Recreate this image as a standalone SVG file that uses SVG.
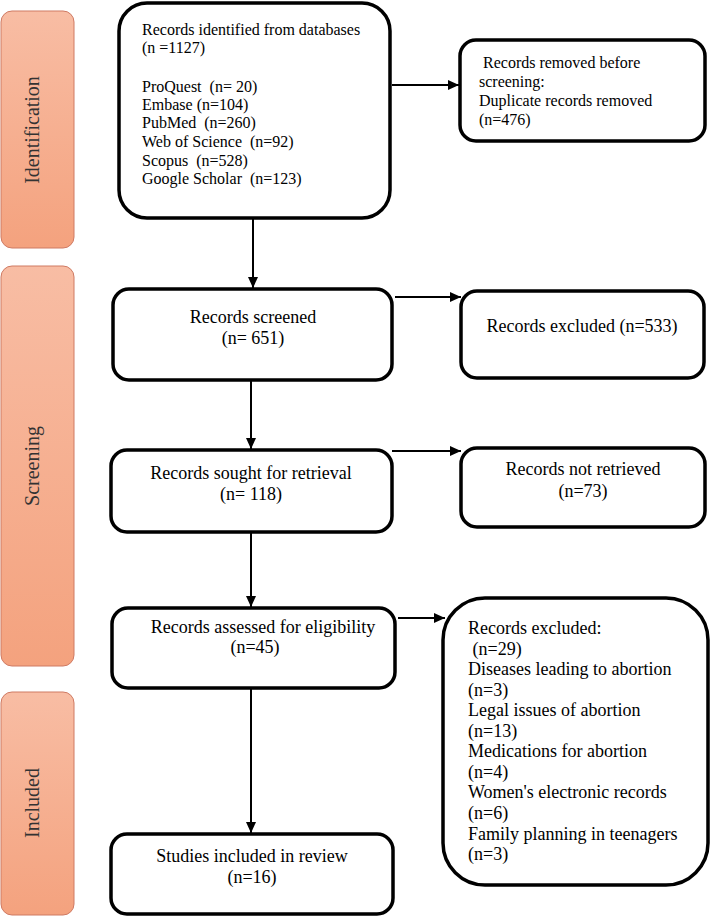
<svg xmlns="http://www.w3.org/2000/svg" width="711" height="917" viewBox="0 0 711 917">
<defs>
<linearGradient id="barGrad" x1="0" y1="0" x2="0" y2="1">
<stop offset="0" stop-color="#F8BDA4"/>
<stop offset="1" stop-color="#F4A27E"/>
</linearGradient>
<marker id="arrow" markerUnits="userSpaceOnUse" markerWidth="12" markerHeight="10" refX="11" refY="5" orient="auto">
<path d="M0,0 L11,5 L0,10 Z" fill="#000"/>
</marker>
<style>
.bar{fill:url(#barGrad);stroke:#CF7A63;stroke-width:1}
.bar-label{font-family:"Liberation Serif","Times New Roman",serif;font-size:20px;fill:#333;text-anchor:middle}
.box{fill:#fff;stroke:#000;stroke-width:3.5}
.t16{font-family:"Liberation Serif","Times New Roman",serif;font-size:16px;fill:#000;white-space:pre}
.t18{font-family:"Liberation Serif","Times New Roman",serif;font-size:18px;fill:#000;white-space:pre}
.mid{text-anchor:middle}
.conn{stroke:#000;stroke-width:2;fill:none}
</style>
</defs>
<rect width="711" height="917" fill="#fff"/>

<g id="phase-identification">
<rect class="bar" x="1" y="11" width="73" height="237" rx="11"/>
<text class="bar-label" transform="translate(39,130) rotate(-90)">Identification</text>
</g>
<g id="phase-screening">
<rect class="bar" x="1" y="266" width="73" height="400" rx="11"/>
<text class="bar-label" transform="translate(39,466) rotate(-90)">Screening</text>
</g>
<g id="phase-included">
<rect class="bar" x="1" y="692" width="73" height="223" rx="11"/>
<text class="bar-label" transform="translate(39,803) rotate(-90)">Included</text>
</g>

<g id="connectors">
<line class="conn" x1="392" y1="85" x2="459" y2="85" marker-end="url(#arrow)"/>
<line class="conn" x1="253" y1="218" x2="253" y2="288" marker-end="url(#arrow)"/>
<line class="conn" x1="395" y1="297" x2="461" y2="297" marker-end="url(#arrow)"/>
<line class="conn" x1="251" y1="380" x2="251" y2="449" marker-end="url(#arrow)"/>
<line class="conn" x1="392" y1="451" x2="461" y2="451" marker-end="url(#arrow)"/>
<line class="conn" x1="251" y1="532" x2="251" y2="607" marker-end="url(#arrow)"/>
<line class="conn" x1="398" y1="618" x2="445" y2="618" marker-end="url(#arrow)"/>
<line class="conn" x1="251" y1="688" x2="251" y2="833" marker-end="url(#arrow)"/>
</g>

<g id="identified">
<rect class="box" x="119" y="3" width="271" height="215" rx="28"/>
<text class="t16" x="142" y="35">Records identified from databases</text>
<text class="t16" x="142" y="53">(n =1127)</text>
<text class="t16" x="142" y="92">ProQuest  (n= 20)</text>
<text class="t16" x="142" y="110">Embase (n=104)</text>
<text class="t16" x="142" y="128">PubMed  (n=260)</text>
<text class="t16" x="142" y="147">Web of Science  (n=92)</text>
<text class="t16" x="142" y="166">Scopus  (n=528)</text>
<text class="t16" x="142" y="184">Google Scholar  (n=123)</text>
</g>

<g id="removed">
<rect class="box" x="460" y="40" width="245" height="101" rx="16"/>
<text class="t16" x="479" y="68"> Records removed before</text>
<text class="t16" x="479" y="87">screening:</text>
<text class="t16" x="479" y="106">Duplicate records removed</text>
<text class="t16" x="479" y="125">(n=476)</text>
</g>

<g id="screened">
<rect class="box" x="113" y="289" width="279" height="91" rx="16"/>
<text class="t18 mid" x="253" y="323">Records screened</text>
<text class="t18 mid" x="253" y="344">(n= 651)</text>
</g>

<g id="excluded-screen">
<rect class="box" x="461" y="291" width="243" height="87" rx="16"/>
<text class="t18 mid" x="582" y="332">Records excluded (n=533)</text>
</g>

<g id="sought">
<rect class="box" x="111" y="450" width="281" height="82" rx="16"/>
<text class="t18 mid" x="251" y="479">Records sought for retrieval</text>
<text class="t18 mid" x="251" y="500">(n= 118)</text>
</g>

<g id="not-retrieved">
<rect class="box" x="461" y="448" width="244" height="79" rx="16"/>
<text class="t18 mid" x="583" y="475">Records not retrieved</text>
<text class="t18 mid" x="583" y="497">(n=73)</text>
</g>

<g id="assessed">
<rect class="box" x="112" y="608" width="283" height="80" rx="16"/>
<text class="t18 mid" x="263" y="633">Records assessed for eligibility</text>
<text class="t18 mid" x="255" y="653">(n=45)</text>
</g>

<g id="excluded-eligibility">
<rect class="box" x="443" y="598" width="265" height="287" rx="42"/>
<text class="t18" x="468" y="634">Records excluded:</text>
<text class="t18" x="468" y="655"> (n=29)</text>
<text class="t18" x="468" y="675">Diseases leading to abortion</text>
<text class="t18" x="468" y="696">(n=3)</text>
<text class="t18" x="468" y="716">Legal issues of abortion</text>
<text class="t18" x="468" y="737">(n=13)</text>
<text class="t18" x="468" y="757">Medications for abortion</text>
<text class="t18" x="468" y="778">(n=4)</text>
<text class="t18" x="468" y="798">Women's electronic records</text>
<text class="t18" x="468" y="819">(n=6)</text>
<text class="t18" x="468" y="840">Family planning in teenagers</text>
<text class="t18" x="468" y="860">(n=3)</text>
</g>

<g id="included">
<rect class="box" x="111" y="834" width="282" height="80" rx="16"/>
<text class="t18 mid" x="252" y="862">Studies included in review</text>
<text class="t18 mid" x="252" y="883">(n=16)</text>
</g>
</svg>
